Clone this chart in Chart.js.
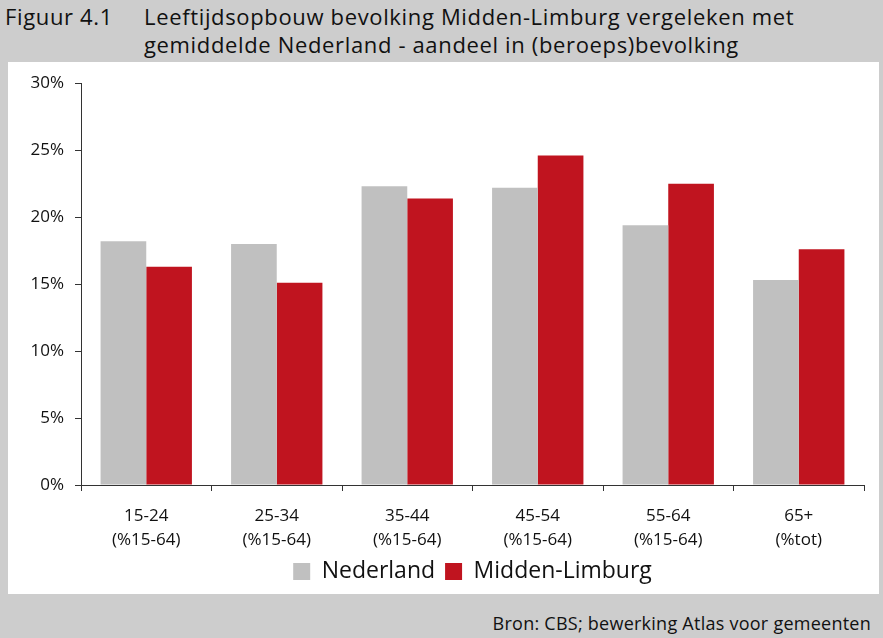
<!DOCTYPE html>
<html>
<head>
<meta charset="utf-8">
<script src="https://cdn.jsdelivr.net/npm/chart.js@4.4.1/dist/chart.umd.min.js"></script>
<style>
  html, body { margin: 0; padding: 0; }
  body { width: 883px; height: 638px; background: #cdcdcd; position: relative; overflow: hidden; font-family: "Open Sans", sans-serif; }
  .titel { position: absolute; top: 0; left: 0; height: 62px; width: 883px; font-size: 22px; line-height: 28px; letter-spacing: 0.65px; color: #111; }
  .titel .nr { position: absolute; left: 5px; top: 2px; }
  .titel .tekst { position: absolute; left: 144px; top: 2px; }
  .paneel { position: absolute; left: 8px; top: 62px; width: 871px; height: 532px; background: #fff; }
  .bron { position: absolute; right: 12px; top: 611px; line-height: 24px; font-size: 18px; letter-spacing: 0.25px; color: #111; }
</style>
</head>
<body>
<div class="titel">
  <div class="nr">Figuur 4.1</div>
  <div class="tekst">Leeftijdsopbouw bevolking Midden-Limburg vergeleken met<br>gemiddelde Nederland - aandeel in (beroeps)bevolking</div>
</div>
<div class="paneel">
  <canvas id="grafiek" width="871" height="532"></canvas>
</div>
<div class="bron">Bron: CBS; bewerking Atlas voor gemeenten</div>

<script>
// leeftijdsgroepen
const categorieen = [
  ['15-24', '(%15-64)'],
  ['25-34', '(%15-64)'],
  ['35-44', '(%15-64)'],
  ['45-54', '(%15-64)'],
  ['55-64', '(%15-64)'],
  ['65+', '(%tot)']
];
const nederland = [18.2, 18.0, 22.3, 22.2, 19.4, 15.3];
const middenLimburg = [16.3, 15.1, 21.4, 24.6, 22.5, 17.6];
const yTicks = [0, 5, 10, 15, 20, 25, 30];

const ctx = document.getElementById('grafiek').getContext('2d');
ctx.letterSpacing = '0.5px'; // tekst in het origineel is iets breder

new Chart(ctx, {
  type: 'bar',
  data: {
    labels: categorieen,
    datasets: [
      { label: 'Nederland', data: nederland, backgroundColor: '#c0c0c0' },
      { label: 'Midden-Limburg', data: middenLimburg, backgroundColor: '#c0141f' }
    ]
  },
  options: {
    responsive: false,
    animation: false,
    categoryPercentage: 0.7,
    barPercentage: 1.0,
    layout: { padding: { top: 18, right: 15, bottom: 1, left: 0 } },
    plugins: {
      tooltip: { enabled: false },
      legend: {
        position: 'bottom',
        fullSize: false,
        labels: {
          boxWidth: 17,
          boxHeight: 17,
          padding: 10,
          color: '#111',
          font: { family: 'Open Sans', size: 23 }
        }
      }
    },
    scales: {
      x: {
        grid: { drawOnChartArea: false, tickLength: 6, color: '#333' },
        border: { color: '#333', width: 1 },
        ticks: {
          color: '#111',
          padding: 13,
          maxRotation: 0,
          font: { family: 'Open Sans', size: 17, lineHeight: 1.41 }
        },
        afterFit: (scale) => { scale.height = 65; }
      },
      y: {
        min: 0,
        max: 30,
        afterBuildTicks: (scale) => { scale.ticks = yTicks.map(v => ({ value: v })); },
        grid: { drawOnChartArea: false, tickLength: 6, color: '#333' },
        border: { color: '#333', width: 1 },
        ticks: {
          color: '#111',
          padding: 11,
          font: { family: 'Open Sans', size: 17 },
          callback: (v) => v + '%'
        },
        afterFit: (scale) => { scale.width = 73; }
      }
    }
  }
});
</script>
</body>
</html>
